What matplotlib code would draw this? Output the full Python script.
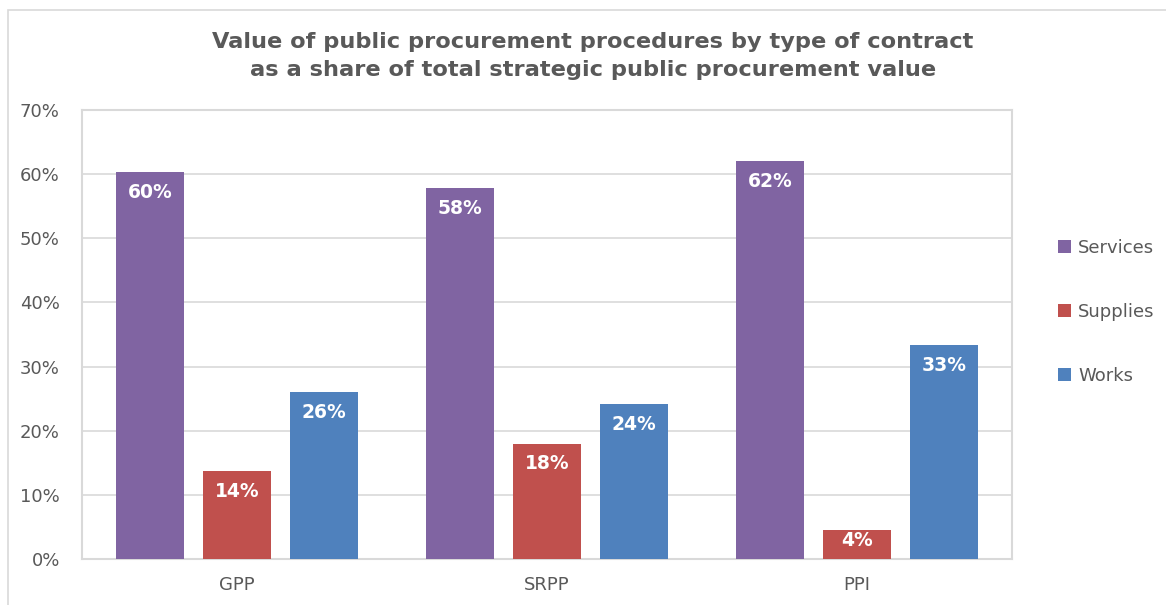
import matplotlib.pyplot as plt
import numpy as np
from matplotlib.patches import Rectangle

# data
categories = ["GPP", "SRPP", "PPI"]
series_names = ["Services", "Supplies", "Works"]
services = [60.3, 57.8, 62.1]
supplies = [13.7, 18.0, 4.5]
works = [26.0, 24.2, 33.4]
labels_services = ["60%", "58%", "62%"]
labels_supplies = ["14%", "18%", "4%"]
labels_works = ["26%", "24%", "33%"]

colors = ["#8064A2", "#C0504D", "#4F81BD"]
text_col = "#595959"
grid_col = "#D9D9D9"

plt.rcParams['font.family'] = ['DejaVu Sans']

fig = plt.figure(figsize=(11.66, 6.05), dpi=100)
ax = fig.add_axes([82/1166, 1 - 559/605, 930/1166, 449/605])

# outer chart border
fig.patches.append(Rectangle((8/1166, -0.01), 1.0, 1 - 10/605 + 0.01, transform=fig.transFigure,
                             fill=False, edgecolor=grid_col, linewidth=1.2))

x = np.arange(len(categories))
width = 0.22
offset = 0.28
all_vals = [services, supplies, works]
all_labels = [labels_services, labels_supplies, labels_works]
for i, (vals, labs) in enumerate(zip(all_vals, all_labels)):
    pos = x + (i - 1) * offset
    bars = ax.bar(pos, vals, width, color=colors[i], label=series_names[i], zorder=3)
    for b, lab in zip(bars, labs):
        h = b.get_height()
        # short bars: label hugs the top like Excel does
        pad = 1.7 if h > 10 else 0.2
        ax.text(b.get_x() + b.get_width() / 2, h - pad, lab,
                ha='center', va='top', color='white', fontsize=13.5, fontweight='bold', zorder=4)

ax.set_xlim(-0.5, 2.5)
ax.set_ylim(0, 70)
ax.set_yticks(range(0, 71, 10))
ax.set_yticklabels([f"{v}%" for v in range(0, 71, 10)])
ax.set_xticks(x)
ax.set_xticklabels(categories)
ax.tick_params(axis='both', length=0, labelsize=13, colors=text_col)
ax.tick_params(axis='x', pad=12)
ax.tick_params(axis='y', pad=16)
ax.grid(True, axis='y', color=grid_col, linewidth=1.2, zorder=0)
for s in ax.spines.values():
    s.set_color(grid_col)
    s.set_linewidth(1.5)

fig.text(593/1166, 1 - 56/605, "Value of public procurement procedures by type of contract\n"
         "as a share of total strategic public procurement value",
         ha='center', va='center', fontsize=16.2, fontweight='bold', color=text_col, linespacing=1.5)

leg = fig.legend(loc='center left', bbox_to_anchor=(1042/1166, 1 - 312/605), frameon=False,
                 fontsize=13, labelspacing=2.55, handlelength=0.7, handleheight=0.7,
                 handletextpad=0.4, labelcolor=text_col)

plt.savefig("out.png", dpi=100)
